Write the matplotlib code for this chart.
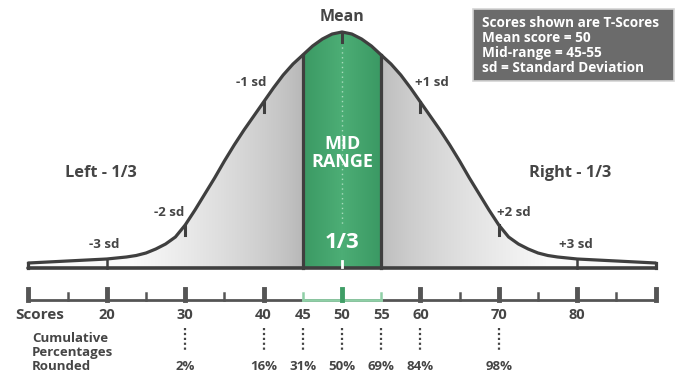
import numpy as np
import matplotlib.pyplot as plt
from matplotlib.patches import Polygon, Rectangle

plt.rcParams['font.family'] = ['Open Sans', 'DejaVu Sans']
plt.rcParams['font.weight'] = 'bold'

# bell curve: score -> height above the base (px)
curve_scores = [10, 15, 20, 21.25, 22.5, 23.75, 25, 26.25, 27.5, 28.75,
                30, 31.25, 32.5, 33.75, 35, 36.25, 37.5, 38.75,
                40, 41.25, 42.5, 43.75, 45, 46.25, 47.5, 48.75,
                50, 51.25, 52.5, 53.75, 55, 56.25, 57.5, 58.75,
                60, 61.25, 62.5, 63.75, 65, 66.25, 67.5, 68.75,
                70, 71.25, 72.5, 73.75, 75, 76.25, 77.5, 78.75, 80, 85, 90]
curve_heights = [5, 7, 9, 10, 11, 12.5, 15, 19, 24, 31,
                 43, 58, 74, 90, 107, 123, 138, 152,
                 166, 180, 193, 204, 213, 222, 229, 234,
                 236, 234, 229, 222, 213, 204, 193, 180,
                 166, 152, 138, 123, 107, 90, 74, 58,
                 43, 31, 24, 19, 15, 12.5, 11, 10, 9, 7, 5]

major_ticks = [10, 20, 30, 40, 50, 60, 70, 80, 90]
minor_ticks = [15, 25, 35, 45, 55, 65, 75, 85]
score_labels = [20, 30, 40, 45, 50, 55, 60, 70, 80]
cum_scores = [30, 40, 45, 50, 55, 60, 70]
cum_pct = ['2%', '16%', '31%', '50%', '69%', '84%', '98%']
sd_scores = [20, 30, 40, 60, 70, 80]
sd_labels = ['-3 sd', '-2 sd', '-1 sd', '+1 sd', '+2 sd', '+3 sd']
mean_score = 50
mid_lo, mid_hi = 45, 55
info_lines = ['Scores shown are T-Scores', 'Mean score = 50',
              'Mid-range = 45-55', 'sd = Standard Deviation']

DARK = '#3f3f3f'
TXT = '#454545'
BASE = 268
PX = 7.84  # px per score unit


def hx(s):
    return BASE - np.interp(s, curve_scores, curve_heights)


def sx(px):
    return 50 + (px - 342) / PX


fig = plt.figure(figsize=(6.88, 3.78), dpi=100)
ax = fig.add_axes([0, 0, 1, 1])
ax.set_xlim(sx(0), sx(688))
ax.set_ylim(378, 0)
ax.axis('off')

cx = np.array(curve_scores)
cy = BASE - np.array(curve_heights)

# area under the curve, used as clip
poly = Polygon(np.column_stack([np.r_[cx, cx[-1], cx[0]], np.r_[cy, BASE, BASE]]),
               closed=True, facecolor='none', edgecolor='none')
ax.add_patch(poly)

# grey gradients either side, green in the middle
cols = np.linspace(cx[0], cx[-1], 600)
img = np.ones((2, len(cols), 3))
for i, s in enumerate(cols):
    if s < mid_lo:
        t = np.clip((mid_lo - s) / 22, 0, 1)
        img[:, i] = 0.71 + 0.27 * t ** 0.7
    elif s > mid_hi:
        t = np.clip((s - mid_hi) / 22, 0, 1)
        img[:, i] = 0.73 + 0.25 * t ** 0.7
    else:
        t = 1 - abs(s - mean_score) / 5
        img[:, i] = np.array([0.23, 0.60, 0.39]) * (1 - t) + np.array([0.30, 0.68, 0.46]) * t
im = ax.imshow(img, extent=[cx[0], cx[-1], BASE, 20], aspect='auto', zorder=1,
               interpolation='bilinear')
im.set_clip_path(poly)

# centre dotted line
ax.plot([mean_score, mean_score], [hx(mean_score) + 10, 226], ls=(0, (1, 2.5)),
        color='#a8dcbc', lw=1, zorder=2)

# outline
ax.plot(cx, cy, color=DARK, lw=2.3, zorder=4, solid_joinstyle='round',
        solid_capstyle='round')
ax.plot([cx[0], cx[0]], [cy[0], BASE], color=DARK, lw=2.3, zorder=4)
ax.plot([cx[-1], cx[-1]], [cy[-1], BASE], color=DARK, lw=2.3, zorder=4)
ax.plot([cx[0], cx[-1]], [BASE, BASE], color=DARK, lw=2.6, zorder=4,
        solid_capstyle='round')
for s in (mid_lo, mid_hi):
    ax.plot([s, s], [hx(s), BASE], color=DARK, lw=2.3, zorder=4)

# sd marks
for s in sd_scores:
    if s in (20, 80):
        ax.plot([s, s], [hx(s), BASE], color=DARK, lw=1.8, zorder=4)
    else:
        ax.plot([s, s], [hx(s), hx(s) + 10], color=DARK, lw=2.2, zorder=4)
ax.plot([mean_score, mean_score], [hx(mean_score), hx(mean_score) + 10],
        color=DARK, lw=2.2, zorder=4)
ax.plot([mean_score, mean_score], [BASE - 7, BASE - 1], color='white', lw=2, zorder=4)

# labels on the curve
sd_pos = [(19.7, 244), (27.9, 213), (38.4, 82), (61.4, 82), (71.9, 213), (79.8, 244)]
for lab, (x, y) in zip(sd_labels, sd_pos):
    ax.text(x, y, lab, ha='center', va='center', fontsize=9.5, color=TXT)
ax.text(mean_score, 17, 'Mean', ha='center', va='center', fontsize=11.5, color=TXT)
ax.text(19.3, 173, 'Left - 1/3', ha='center', va='center', fontsize=11.8, color=TXT)
ax.text(79.1, 173, 'Right - 1/3', ha='center', va='center', fontsize=11.8, color=TXT)
ax.text(mean_score, 153, 'MID\nRANGE', ha='center', va='center', fontsize=13,
        color='white', linespacing=0.95, zorder=5)
ax.text(mean_score, 242, '1/3', ha='center', va='center', fontsize=16,
        color='white', zorder=5)

# info box
ax.add_patch(Rectangle((sx(473), 9), sx(674) - sx(473), 72, facecolor='#6b6b6b',
                       edgecolor='#d4d4d4', lw=1.2, zorder=6))
for i, line in enumerate(info_lines):
    ax.text(sx(482), 23 + i * 15, line, ha='left', va='center',
            fontsize=9.8, color='white', zorder=7)

# score scale
SY = 300
ax.plot([major_ticks[0], major_ticks[-1]], [SY, SY], color='#555555', lw=2, zorder=3)
ax.plot([mid_lo, mid_hi], [SY, SY], color='#8fcfa6', lw=2, zorder=3)
for s in major_ticks:
    c = '#3f9e66' if s == mean_score else '#555555'
    ax.plot([s, s], [289, SY], color=c, lw=3.5, zorder=4)
for s in minor_ticks:
    c = '#8fcfa6' if s in (mid_lo, mid_hi) else '#555555'
    ax.plot([s, s], [293, SY], color=c, lw=1.8, zorder=4)

ax.text(sx(40), 315, 'Scores', ha='center', va='center', fontsize=11, color=TXT)
for s in score_labels:
    ax.text(s, 315, str(s), ha='center', va='center', fontsize=10.5, color=TXT)

for s, p in zip(cum_scores, cum_pct):
    ax.plot([s, s], [328, 352], color=TXT, lw=1.6, ls=(0, (1, 1.2)))
    ax.text(s, 366, p, ha='center', va='center', fontsize=9.5, color=TXT)

for i, line in enumerate(['Cumulative', 'Percentages', 'Rounded']):
    ax.text(sx(32), 339 + i * 13.5, line, ha='left', va='center',
            fontsize=9.5, color=TXT)

fig.savefig('out.png', dpi=100)
